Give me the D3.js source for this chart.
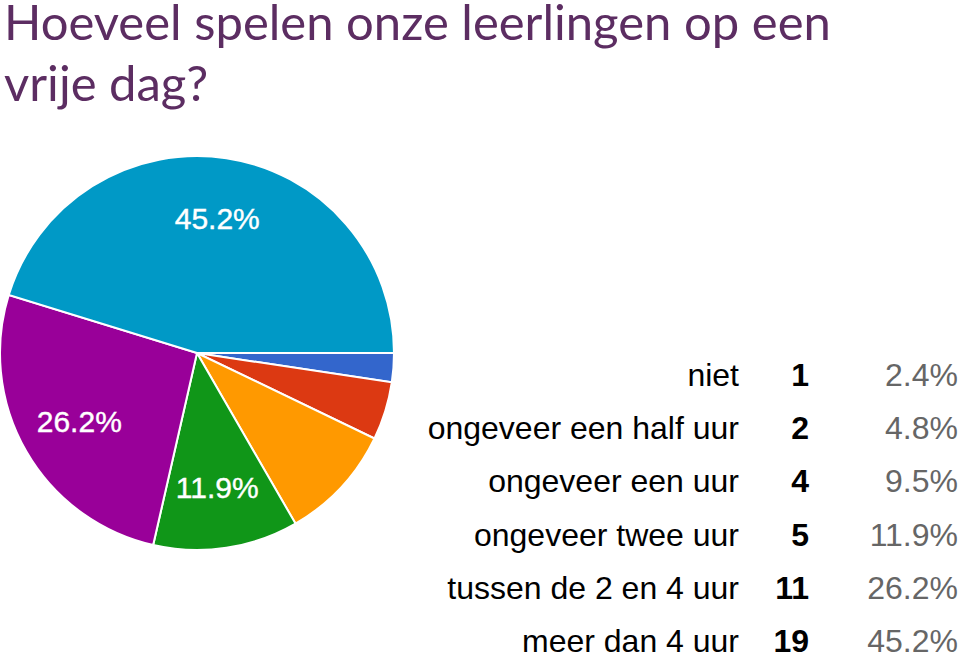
<!DOCTYPE html>
<html><head><meta charset="utf-8">
<script src="https://cdn.jsdelivr.net/npm/d3@7"></script>
<style>html,body{margin:0;padding:0;background:#fff;}svg{display:block;}</style>
</head><body>
<svg id="c" width="959" height="657"></svg>
<script>
const categories = ["niet", "ongeveer een half uur", "ongeveer een uur", "ongeveer twee uur", "tussen de 2 en 4 uur", "meer dan 4 uur"];
const counts = [1, 2, 4, 5, 11, 19];
const percentLabels = ["2.4%", "4.8%", "9.5%", "11.9%", "26.2%", "45.2%"];
const colors = ["#3366cc", "#dc3912", "#ff9900", "#109618", "#990099", "#0099c6"];
const titleLines = ["Hoeveel spelen onze leerlingen op een", "vrije dag?"];

const svg = d3.select("#c");

// Title
const title = svg.append("text")
  .attr("font-family", "Lato, 'Open Sans', sans-serif")
  .attr("font-size", 49)
  .attr("fill", "#5c2d62");
titleLines.forEach((t, i) => {
  title.append("tspan").attr("x", 4).attr("y", 40 + i * 61).text(t);
});

// Pie
const cx = 197, cy = 353, r = 197;
const data = categories.map((c, i) => ({ cat: c, value: counts[i], pct: percentLabels[i], color: colors[i] }));
const total = d3.sum(counts);
const pie = d3.pie().value(d => d.value).sort(null)
  .startAngle(Math.PI / 2).endAngle(Math.PI / 2 + 2 * Math.PI);
const arcs = pie(data);
const arc = d3.arc().innerRadius(0).outerRadius(r);
const labelArc = d3.arc().innerRadius(r * 0.69).outerRadius(r * 0.69);

const g = svg.append("g").attr("transform", `translate(${cx},${cy})`);
g.selectAll("path").data(arcs).join("path")
  .attr("d", arc)
  .attr("fill", d => d.data.color)
  .attr("stroke", "#fff")
  .attr("stroke-width", 2);

g.selectAll("text.lbl").data(arcs.filter(d => d.data.value / total > 0.1)).join("text")
  .attr("class", "lbl")
  .attr("transform", d => `translate(${labelArc.centroid(d)})`)
  .attr("text-anchor", "middle")
  .attr("dy", "0.36em")
  .attr("font-family", "'Liberation Sans', Arial, sans-serif")
  .attr("font-size", 30)
  .attr("fill", "#fff")
  .attr("stroke", "#fff")
  .attr("stroke-width", 0.4)
  .text(d => d.data.pct);

// Table legend
const y = d3.scalePoint().domain(categories).range([386, 652]);
const tg = svg.append("g")
  .attr("font-family", "'Liberation Sans', Arial, sans-serif")
  .attr("font-size", 32);
tg.selectAll("text.cat").data(data).join("text")
  .attr("class", "cat")
  .attr("x", 739).attr("y", d => y(d.cat))
  .attr("text-anchor", "end").attr("fill", "#000")
  .text(d => d.cat);
tg.selectAll("text.cnt").data(data).join("text")
  .attr("class", "cnt")
  .attr("x", 809).attr("y", d => y(d.cat))
  .attr("text-anchor", "end").attr("font-weight", "bold").attr("fill", "#000")
  .text(d => d.value);
tg.selectAll("text.pct").data(data).join("text")
  .attr("class", "pct")
  .attr("x", 958).attr("y", d => y(d.cat))
  .attr("text-anchor", "end").attr("fill", "#666")
  .text(d => d.pct);
</script>
</body></html>
